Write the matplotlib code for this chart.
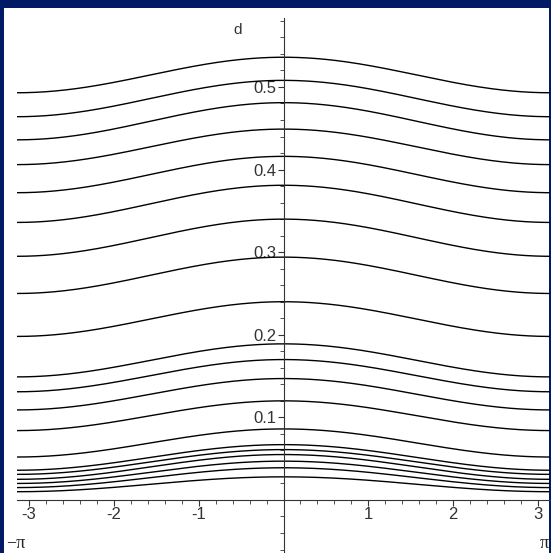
import numpy as np
import matplotlib
matplotlib.use("Agg")
import matplotlib.pyplot as plt
from matplotlib.patches import Rectangle
from matplotlib.ticker import MultipleLocator, FixedLocator

# Curve values: value at x=0 (peak) and at x=±pi (ends)
center_vals = [0.536, 0.508, 0.481, 0.449, 0.416, 0.381, 0.340, 0.294, 0.240,
               0.189, 0.170, 0.147, 0.120, 0.086, 0.067, 0.061, 0.055, 0.047,
               0.039, 0.028]
end_vals = [0.493, 0.464, 0.436, 0.406, 0.372, 0.336, 0.295, 0.250, 0.198,
            0.149, 0.131, 0.109, 0.084, 0.052, 0.036, 0.031, 0.025, 0.020,
            0.015, 0.010]
x_ticks = [-3, -2, -1, 1, 2, 3]
y_ticks = [0.1, 0.2, 0.3, 0.4, 0.5]

W, H = 551, 553
fig = plt.figure(figsize=(W / 100, H / 100), dpi=100)
fig.patch.set_facecolor('#001a66')
fig.patches.append(Rectangle((4 / W, 0), (549 - 4) / W, (553 - 8) / H,
                             transform=fig.transFigure, facecolor='white',
                             edgecolor='none', zorder=-1))

ax = fig.add_axes([17 / W, 0, 533 / W, 535 / H])
ax.set_facecolor('none')

x = np.linspace(-np.pi, np.pi, 400)
for c, e in zip(center_vals, end_vals):
    ax.plot(x, e + (c - e) * (1 + np.cos(x)) / 2, color='black', lw=1.0)

ax.set_xlim(-np.pi, np.pi)
ax.set_ylim(-0.0642, 0.5835)

for s in ['top', 'right']:
    ax.spines[s].set_visible(False)
ax.spines['left'].set_position(('data', 0))
ax.spines['bottom'].set_position(('data', 0))
for s in ['left', 'bottom']:
    ax.spines[s].set_color('#333333')
    ax.spines[s].set_linewidth(0.8)

ax.xaxis.set_major_locator(FixedLocator(x_ticks))
ax.xaxis.set_minor_locator(MultipleLocator(0.2))
ax.yaxis.set_major_locator(FixedLocator(y_ticks))
ax.yaxis.set_minor_locator(MultipleLocator(0.02))
ax.set_xticklabels([str(t) for t in x_ticks])
ax.set_yticklabels([f"{t:.1f}" for t in y_ticks])

ax.tick_params(axis='both', which='major', direction='out', length=4,
               width=0.8, color='#333333', labelsize=12, pad=1,
               labelcolor='#333333')
ax.tick_params(axis='both', which='minor', direction='out', length=3,
               width=0.6, color='#333333')
for lab in ax.get_xticklabels() + ax.get_yticklabels():
    lab.set_fontfamily('Liberation Sans')

fig.text(238 / W, 1 - 30 / H, 'd', fontsize=11, family='Liberation Sans',
         ha='center', va='center', color='#333333')
fig.text(16 / W, 1 - 543 / H, '\u2212\u03c0', fontsize=13, family='Liberation Serif',
         ha='center', va='center', color='#222222')
fig.text(544 / W, 1 - 543 / H, '\u03c0', fontsize=13, family='Liberation Serif',
         ha='center', va='center', color='#222222')

fig.savefig('out.png', dpi=100, facecolor=fig.get_facecolor())
